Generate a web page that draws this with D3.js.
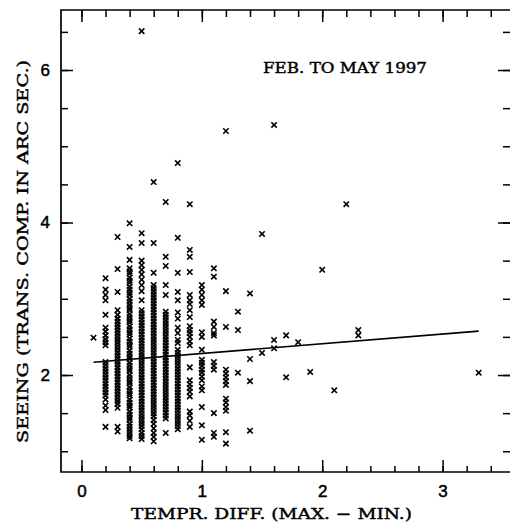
<!DOCTYPE html>
<html>
<head>
<meta charset="utf-8">
<script src="https://cdn.jsdelivr.net/npm/d3@7"></script>
<style>
  body { margin: 0; background: #fff; }
  svg { display: block; }
  .axis path.domain { display: none; }
  .axis line { stroke: #000; stroke-width: 1.5; }
  .axis text { font-family: "Liberation Sans", Arial, sans-serif; font-size: 17px; fill: #000; stroke: #000; stroke-width: 0.5; }
  .title { font-family: "DejaVu Serif", serif; font-size: 15.5px; fill: #000; stroke: #000; stroke-width: 0.45; }
</style>
</head>
<body>
<svg id="chart" width="510" height="523"></svg>
<script>
// temperature difference of each column of points (0.1 resolution)
const tempDiff = [0.1, 0.2, 0.3, 0.4, 0.5, 0.6, 0.7, 0.8, 0.9, 1.0, 1.1, 1.2, 1.3, 1.4, 1.5, 1.6, 1.7, 1.8, 1.9, 2.0, 2.1, 2.2, 2.3, 3.3];

const seeing = [
    [2.49],
    [3.27, 3.12, 3.05, 2.98, 2.79, 2.62, 2.57, 2.52, 2.47, 2.43, 2.39, 2.17, 2.13, 2.09, 2.05, 2.01, 1.97, 1.93, 1.89, 1.85, 1.81, 1.77, 1.73, 1.68, 1.60, 1.54, 1.32],
    [3.81, 3.39, 3.09, 2.85, 2.79, 2.74, 2.70, 2.66, 2.62, 2.58, 2.54, 2.50, 2.46, 2.42, 2.38, 2.34, 2.30, 2.26, 2.22, 2.18, 2.14, 2.10, 2.06, 2.02, 1.98, 1.94, 1.90, 1.86, 1.82, 1.78, 1.74, 1.70, 1.66, 1.62, 1.57, 1.32, 1.26],
    [3.99, 3.68, 3.51, 3.40, 3.36, 3.33, 3.28, 3.24, 3.21, 3.16, 3.12, 3.08, 3.05, 3.00, 2.96, 2.92, 2.88, 2.85, 2.80, 2.76, 2.72, 2.69, 2.64, 2.60, 2.56, 2.53, 2.48, 2.44, 2.40, 2.37, 2.32, 2.28, 2.24, 2.21, 2.16, 2.12, 2.08, 2.05, 2.00, 1.96, 1.92, 1.89, 1.84, 1.80, 1.76, 1.73, 1.68, 1.64, 1.60, 1.57, 1.52, 1.48, 1.44, 1.41, 1.36, 1.32, 1.28, 1.24, 1.20, 1.17],
    [6.51, 3.86, 3.73, 3.50, 3.44, 3.38, 3.32, 3.25, 3.18, 3.10, 2.98, 2.85, 2.81, 2.77, 2.73, 2.69, 2.65, 2.61, 2.57, 2.53, 2.49, 2.45, 2.41, 2.37, 2.33, 2.29, 2.25, 2.21, 2.17, 2.13, 2.09, 2.05, 2.01, 1.97, 1.93, 1.89, 1.85, 1.81, 1.77, 1.73, 1.69, 1.65, 1.61, 1.57, 1.53, 1.49, 1.45, 1.41, 1.37, 1.33, 1.29, 1.24, 1.20, 1.16],
    [4.53, 3.73, 3.34, 3.18, 3.14, 3.10, 3.06, 3.02, 2.98, 2.94, 2.90, 2.86, 2.82, 2.78, 2.74, 2.70, 2.66, 2.62, 2.58, 2.54, 2.50, 2.46, 2.42, 2.38, 2.34, 2.30, 2.26, 2.22, 2.18, 2.14, 2.10, 2.06, 2.02, 1.98, 1.94, 1.90, 1.86, 1.82, 1.78, 1.74, 1.70, 1.66, 1.62, 1.58, 1.54, 1.50, 1.46, 1.41, 1.36, 1.30, 1.24, 1.19, 1.13],
    [4.27, 3.55, 3.43, 3.18, 3.05, 2.83, 2.79, 2.75, 2.71, 2.67, 2.63, 2.59, 2.55, 2.51, 2.47, 2.43, 2.39, 2.35, 2.31, 2.27, 2.23, 2.19, 2.15, 2.11, 2.07, 2.03, 1.99, 1.95, 1.91, 1.87, 1.83, 1.79, 1.75, 1.71, 1.67, 1.63, 1.59, 1.55, 1.51, 1.47, 1.43, 1.24],
    [4.78, 3.80, 3.34, 3.09, 2.98, 2.82, 2.74, 2.62, 2.55, 2.46, 2.42, 2.33, 2.29, 2.25, 2.21, 2.17, 2.13, 2.09, 2.05, 2.01, 1.97, 1.93, 1.89, 1.85, 1.81, 1.77, 1.73, 1.69, 1.65, 1.61, 1.57, 1.53, 1.49, 1.45, 1.41, 1.37, 1.33, 1.29],
    [4.24, 3.64, 3.55, 3.35, 3.05, 2.98, 2.93, 2.85, 2.76, 2.64, 2.59, 2.55, 2.50, 2.44, 2.39, 2.10, 1.93, 1.88, 1.83, 1.78, 1.72, 1.52, 1.47, 1.40, 1.32],
    [3.18, 3.12, 3.05, 2.98, 2.92, 2.56, 2.50, 2.33, 2.20, 2.16, 2.12, 2.07, 2.03, 1.98, 1.93, 1.85, 1.80, 1.58, 1.34, 1.15],
    [3.40, 3.29, 2.70, 2.63, 2.55, 2.52, 2.17, 2.12, 2.07, 1.50, 1.24, 1.19],
    [5.20, 3.10, 2.63, 2.07, 2.02, 1.97, 1.92, 1.87, 1.69, 1.64, 1.58, 1.53, 1.25, 1.10],
    [2.83, 2.59, 2.03],
    [3.07, 2.21, 1.92, 1.27],
    [3.85, 2.29],
    [5.28, 2.46, 2.35],
    [2.52, 1.97],
    [2.43],
    [2.04],
    [3.38],
    [1.80],
    [4.24],
    [2.59, 2.52],
    [2.03]
];

// least squares fit drawn over the points
const fitX = [0.1, 3.3];
const fitY = [2.167, 2.576];

const xMajor = [0, 1, 2, 3];
const yMajor = [2, 4, 6];

const points = tempDiff.flatMap((t, i) => seeing[i].map(s => ({ t: t, s: s })));

const svg = d3.select('#chart');
const plotLeft = 61, plotTop = 10, plotRight = 510, plotBottom = 472;

const x = d3.scaleLinear().domain([-0.17, 3.56]).range([plotLeft, plotRight]);
const y = d3.scaleLinear().domain([0.728, 6.787]).range([plotBottom, plotTop]);

const xMinor = x.ticks(20);
const yMinor = y.ticks(12);

// frame (right side falls outside the picture)
svg.append('path')
    .attr('d', `M${plotRight + 2},${plotTop}H${plotLeft}V${plotBottom}H${plotRight + 2}`)
    .attr('fill', 'none')
    .attr('stroke', '#000')
    .attr('stroke-width', 1.7);

// bottom axis
svg.append('g').attr('class', 'axis').attr('transform', `translate(0,${plotBottom})`)
    .call(d3.axisBottom(x).tickValues(xMinor).tickSize(-6).tickFormat(''));
svg.append('g').attr('class', 'axis').attr('transform', `translate(0,${plotBottom})`)
    .call(d3.axisBottom(x).tickValues(xMajor).tickSize(-12).tickPadding(13).tickFormat(d3.format('d')));

// top axis
svg.append('g').attr('class', 'axis').attr('transform', `translate(0,${plotTop})`)
    .call(d3.axisTop(x).tickValues(xMinor).tickSize(-7).tickFormat(''));
svg.append('g').attr('class', 'axis').attr('transform', `translate(0,${plotTop})`)
    .call(d3.axisTop(x).tickValues(xMajor).tickSize(-12).tickFormat(''));

// left axis
svg.append('g').attr('class', 'axis').attr('transform', `translate(${plotLeft},0)`)
    .call(d3.axisLeft(y).tickValues(yMinor).tickSize(-7).tickFormat(''));
svg.append('g').attr('class', 'axis').attr('transform', `translate(${plotLeft},0)`)
    .call(d3.axisLeft(y).tickValues(yMajor).tickSize(-12).tickPadding(11).tickFormat(d3.format('d')));

// right axis
svg.append('g').attr('class', 'axis').attr('transform', `translate(${plotRight},0)`)
    .call(d3.axisRight(y).tickValues(yMinor).tickSize(-7).tickFormat(''));
svg.append('g').attr('class', 'axis').attr('transform', `translate(${plotRight},0)`)
    .call(d3.axisRight(y).tickValues(yMajor).tickSize(-12).tickFormat(''));

// x markers
svg.append('g')
    .selectAll('path')
    .data(points)
    .enter()
    .append('path')
    .attr('transform', d => `translate(${x(d.t)},${y(d.s)})`)
    .attr('d', 'M-2.7,-2.7L2.7,2.7M-2.7,2.7L2.7,-2.7')
    .attr('stroke', '#000')
    .attr('stroke-width', 1.6)
    .attr('fill', 'none');

// fit line
svg.append('path')
    .datum(fitX.map((v, i) => [v, fitY[i]]))
    .attr('d', d3.line().x(d => x(d[0])).y(d => y(d[1])))
    .attr('fill', 'none')
    .attr('stroke', '#000')
    .attr('stroke-width', 1.6);

// texts
svg.append('text')
    .attr('class', 'title')
    .attr('x', 263)
    .attr('y', 73)
    .attr('textLength', 164)
    .attr('lengthAdjust', 'spacingAndGlyphs')
    .text('FEB. TO MAY 1997');

svg.append('text')
    .attr('class', 'title')
    .attr('x', 131)
    .attr('y', 519)
    .attr('textLength', 281)
    .attr('lengthAdjust', 'spacingAndGlyphs')
    .text('TEMPR. DIFF. (MAX. \u2212 MIN.)');

svg.append('text')
    .attr('class', 'title')
    .attr('transform', 'translate(28,443) rotate(-90)')
    .attr('textLength', 383)
    .attr('lengthAdjust', 'spacingAndGlyphs')
    .text('SEEING (TRANS. COMP. IN ARC SEC.)');
</script>
</body>
</html>
